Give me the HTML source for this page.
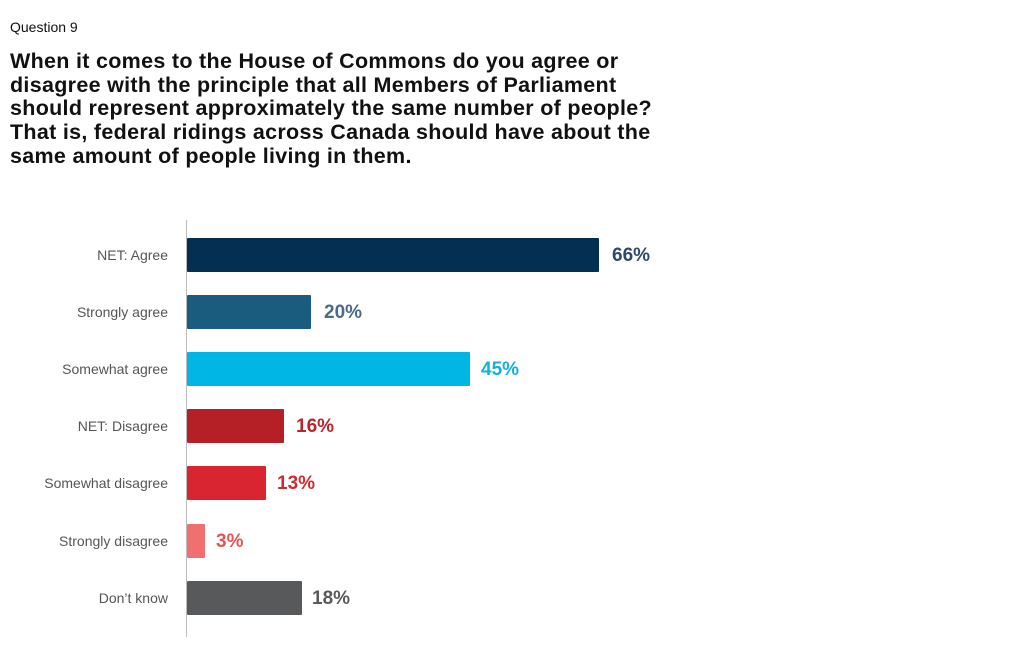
<!DOCTYPE html>
<html><head><style>
body{margin:0;width:1024px;height:653px;background:#fff;font-family:"Liberation Sans",sans-serif;position:relative;overflow:hidden}
.q{position:absolute;left:10px;top:19px;font-size:14px;color:#111}
.t{position:absolute;left:10px;top:50px;font-size:21.5px;font-weight:bold;line-height:23.7px;color:#111;letter-spacing:0.3px;width:720px;white-space:nowrap}
.ax{position:absolute;left:186px;top:220px;width:1px;height:417px;background:#bbb}
.l{position:absolute;right:856px;font-size:14px;color:#555;line-height:34px}
.b{position:absolute;left:187px;height:34px;border-radius:1px}
.v{position:absolute;font-size:19px;font-weight:bold;line-height:34px}
</style></head><body>
<div class="q">Question 9</div>
<div class="t">When it comes to the House of Commons do you agree or<br>disagree with the principle that all Members of Parliament<br>should represent approximately the same number of people?<br>That is, federal ridings across Canada should have about the<br>same amount of people living in them.</div>
<div class="ax"></div>

<div class="l" style="top:238px">NET: Agree</div>
<div class="b" style="top:238px;width:412px;background:#022f52"></div>
<div class="v" style="top:239px;left:612px;color:#2e4a68">66%</div>

<div class="l" style="top:295px">Strongly agree</div>
<div class="b" style="top:295px;width:124px;background:#1a5c7e"></div>
<div class="v" style="top:296px;left:324px;color:#4a6a8a">20%</div>

<div class="l" style="top:352px">Somewhat agree</div>
<div class="b" style="top:352px;width:283px;background:#00b6e5"></div>
<div class="v" style="top:353px;left:481px;color:#13b0df">45%</div>

<div class="l" style="top:409px">NET: Disagree</div>
<div class="b" style="top:409px;width:97px;background:#b51f26"></div>
<div class="v" style="top:410px;left:296px;color:#b7252b">16%</div>

<div class="l" style="top:466px">Somewhat disagree</div>
<div class="b" style="top:466px;width:79px;background:#d9252f"></div>
<div class="v" style="top:467px;left:277px;color:#d02a32">13%</div>

<div class="l" style="top:524px">Strongly disagree</div>
<div class="b" style="top:524px;width:18px;background:#f07070"></div>
<div class="v" style="top:525px;left:216px;color:#e55454">3%</div>

<div class="l" style="top:581px">Don’t know</div>
<div class="b" style="top:581px;width:115px;background:#58595b"></div>
<div class="v" style="top:582px;left:312px;color:#58595b">18%</div>
</body></html>
